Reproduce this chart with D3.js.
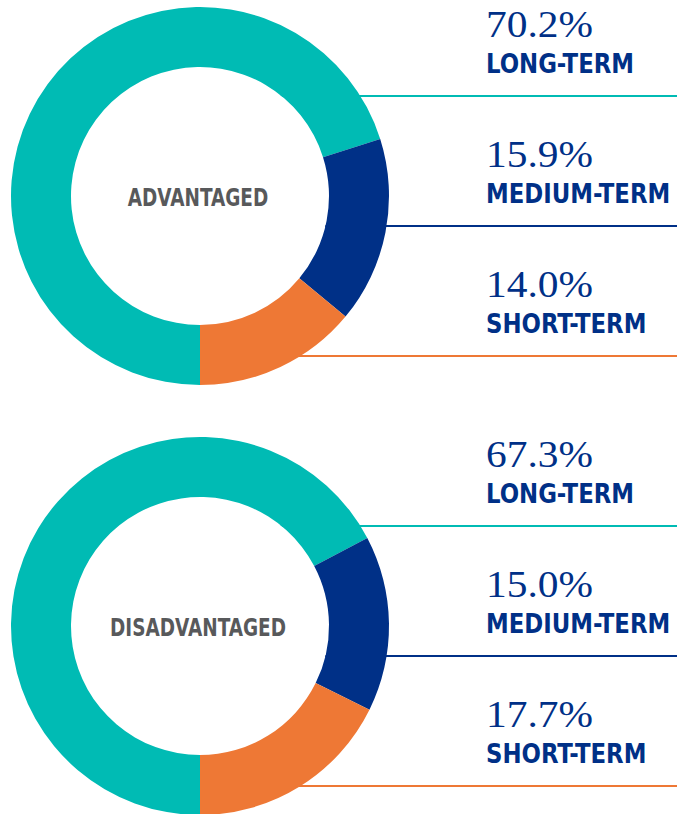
<!DOCTYPE html>
<html>
<head>
<meta charset="utf-8">
<script src="https://cdn.jsdelivr.net/npm/d3@7"></script>
<style>
  html, body { margin: 0; padding: 0; background: #fff; }
  svg { display: block; }
  .center { font-family: "Liberation Sans Narrow", "DejaVu Sans Condensed", sans-serif; font-weight: bold; fill: #58595b; }
  .pct { font-family: "Liberation Serif", "DejaVu Serif", serif; fill: #003087; }
  .term { font-family: "Liberation Sans Narrow", "DejaVu Sans Condensed", sans-serif; font-weight: bold; fill: #003087; }
</style>
</head>
<body>
<svg width="686" height="814"></svg>
<script>
// chart values
const groups = ["ADVANTAGED", "DISADVANTAGED"];
const terms = ["LONG-TERM", "MEDIUM-TERM", "SHORT-TERM"];
const advantaged = [70.2, 15.9, 14.0];
const disadvantaged = [67.3, 15.0, 17.7];
const termColors = ["#00bbb4", "#003087", "#ee7835"];

function run() {
  let svg = d3.select("svg");
  let series = [advantaged, disadvantaged];

  let outerR = 189, innerR = 129;
  let cx = 200;
  // vertical position of each donut block
  let blockY = d3.scaleLinear().domain([0, 1]).range([196, 626]);
  // rows of the legend (the rule under each label)
  let rowY = d3.scaleLinear().domain([0, 1]).range([-100, 30]);
  let lineX = [cx, 677];
  let textX = 486;

  let color = d3.scaleOrdinal().domain(terms).range(termColors);

  // start at 6 o'clock, go clockwise
  let pie = d3.pie().sort(null).startAngle(Math.PI).endAngle(3 * Math.PI);
  let arc = d3.arc().innerRadius(innerR).outerRadius(outerR);

  groups.forEach((g, gi) => {
    let vals = series[gi];
    let block = svg.append("g").attr("transform", `translate(0,${blockY(gi)})`);

    // rules go behind the donut
    block.selectAll(".rule")
      .data(vals)
      .enter()
      .append("line")
      .attr("class", "rule")
      .attr("x1", lineX[0])
      .attr("x2", lineX[1])
      .attr("y1", (d, i) => rowY(i))
      .attr("y2", (d, i) => rowY(i))
      .attr("stroke", (d, i) => color(terms[i]))
      .attr("stroke-width", 2);

    let donut = block.append("g").attr("transform", `translate(${cx},0)`);
    donut.append("circle").attr("r", innerR).attr("fill", "#fff");
    donut.selectAll("path")
      .data(pie(vals))
      .enter()
      .append("path")
      .attr("d", arc)
      .attr("fill", (d, i) => color(terms[i]));

    // condensed look: squeeze the font horizontally
    donut.append("text")
      .attr("class", "center")
      .attr("text-anchor", "middle")
      .attr("transform", "translate(-2,10) scale(0.82,1)")
      .attr("font-size", 25)
      .text(g);

    let lab = block.selectAll(".lab")
      .data(vals)
      .enter()
      .append("g")
      .attr("class", "lab")
      .attr("transform", (d, i) => `translate(${textX},${rowY(i)})`);

    lab.append("text")
      .attr("class", "pct")
      .attr("transform", "translate(0,-59) scale(1.12,1)")
      .attr("font-size", 37)
      .text(d => d.toFixed(1) + "%");

    lab.append("text")
      .attr("class", "term")
      .attr("transform", "translate(0,-23) scale(0.94,1)")
      .attr("font-size", 27)
      .text((d, i) => terms[i]);
  });
}

run();
</script>
</body>
</html>
